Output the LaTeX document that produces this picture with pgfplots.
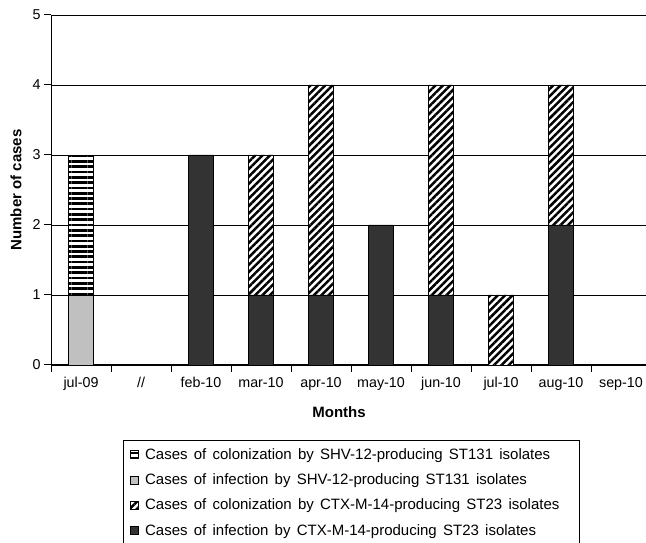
\documentclass[border=0pt]{standalone}
\usepackage{fontspec}
\setmainfont{Liberation Sans}
\newfontfamily\legfont[WordSpace=1.5]{Liberation Sans}
\usepackage{pgfplots}
\pgfplotsset{compat=1.18}
\usetikzlibrary{patterns.meta}
\definecolor{lightbar}{HTML}{C0C0C0}
\definecolor{darkbar}{HTML}{333333}
\pgfplotsset{
  legsq/.style={legend image code/.code={\draw[##1] (0pt,-4pt) rectangle (8pt,4pt);}},
}
\begin{document}
\begin{tikzpicture}
\useasboundingbox (0,0) rectangle (646pt,543pt);
\begin{axis}[
  at={(51pt,178pt)}, anchor=south west,
  scale only axis, width=600pt, height=350pt,
  xmin=-0.5, xmax=9.5, ymin=0, ymax=5,
  ybar stacked, bar width=25pt,
  axis x line*=bottom, axis y line*=left,
  axis line style={line width=1pt, black},
  xtick={0,...,9},
  xticklabels={jul-09,//,feb-10,mar-10,apr-10,may-10,jun-10,jul-10,aug-10,sep-10},
  minor xtick={-0.5,0.5,...,9.5},
  major x tick style={draw=none},
  minor x tick style={black, line width=1pt},
  ytick={0,...,5},
  y tick style={black, line width=1pt},
  major tick length=7pt, minor tick length=7pt,
  tick align=outside,
  ymajorgrids, grid style={black, line width=0.8pt},
  /pgf/number format/assume math mode=true,
  tick label style={font=\fontsize{14.3}{16}\selectfont},
  xticklabel style={yshift=-2pt},
  label style={font=\bfseries\fontsize{15}{17}\selectfont},
  xlabel={Months}, ylabel={Number of cases},
  xlabel style={at={(axis description cs:0.48,-0.1343)}, anchor=center},
  ylabel style={at={(axis description cs:-0.0583,0.5)}, anchor=center},
  reverse legend,
  legend cell align=left,
  legend style={at={(axis description cs:0.12,-0.2186)}, anchor=north west,
    draw=none, fill=none, inner xsep=7pt, inner ysep=0.3pt,
    column sep=6pt, row sep=0pt,
    nodes={inner sep=0pt, minimum height=25.3pt},
    font=\legfont\fontsize{15}{17}\selectfont},
]
\addplot[fill=darkbar, draw=black, line width=0.9pt, legsq] coordinates {(0,0)(1,0)(2,3)(3,1)(4,1)(5,2)(6,1)(7,0)(8,2)(9,0)};
\addlegendentry{Cases of infection by CTX-M-14-producing ST23 isolates}
\addplot[draw=black, line width=0.9pt, preaction={fill=white}, pattern={Lines[angle=45,distance=5.2pt,line width=2.5pt]}, legsq] coordinates {(0,0)(1,0)(2,0)(3,2)(4,3)(5,0)(6,3)(7,1)(8,2)(9,0)};
\addlegendentry{Cases of colonization by CTX-M-14-producing ST23 isolates}
\addplot[fill=lightbar, draw=black, line width=0.9pt, legsq] coordinates {(0,1)(1,0)(2,0)(3,0)(4,0)(5,0)(6,0)(7,0)(8,0)(9,0)};
\addlegendentry{Cases of infection by SHV-12-producing ST131 isolates}
\addplot[draw=black, line width=0.9pt, preaction={fill=white}, pattern={Lines[angle=0,distance=5.3pt,line width=2.7pt]}, legsq] coordinates {(0,2)(1,0)(2,0)(3,0)(4,0)(5,0)(6,0)(7,0)(8,0)(9,0)};
\addlegendentry{Cases of colonization by SHV-12-producing ST131 isolates}
\end{axis}
\draw[line width=0.8pt] (123pt,-5pt) -- (123pt,103pt) -- (579pt,103pt) -- (579pt,-5pt);
\end{tikzpicture}
\end{document}
